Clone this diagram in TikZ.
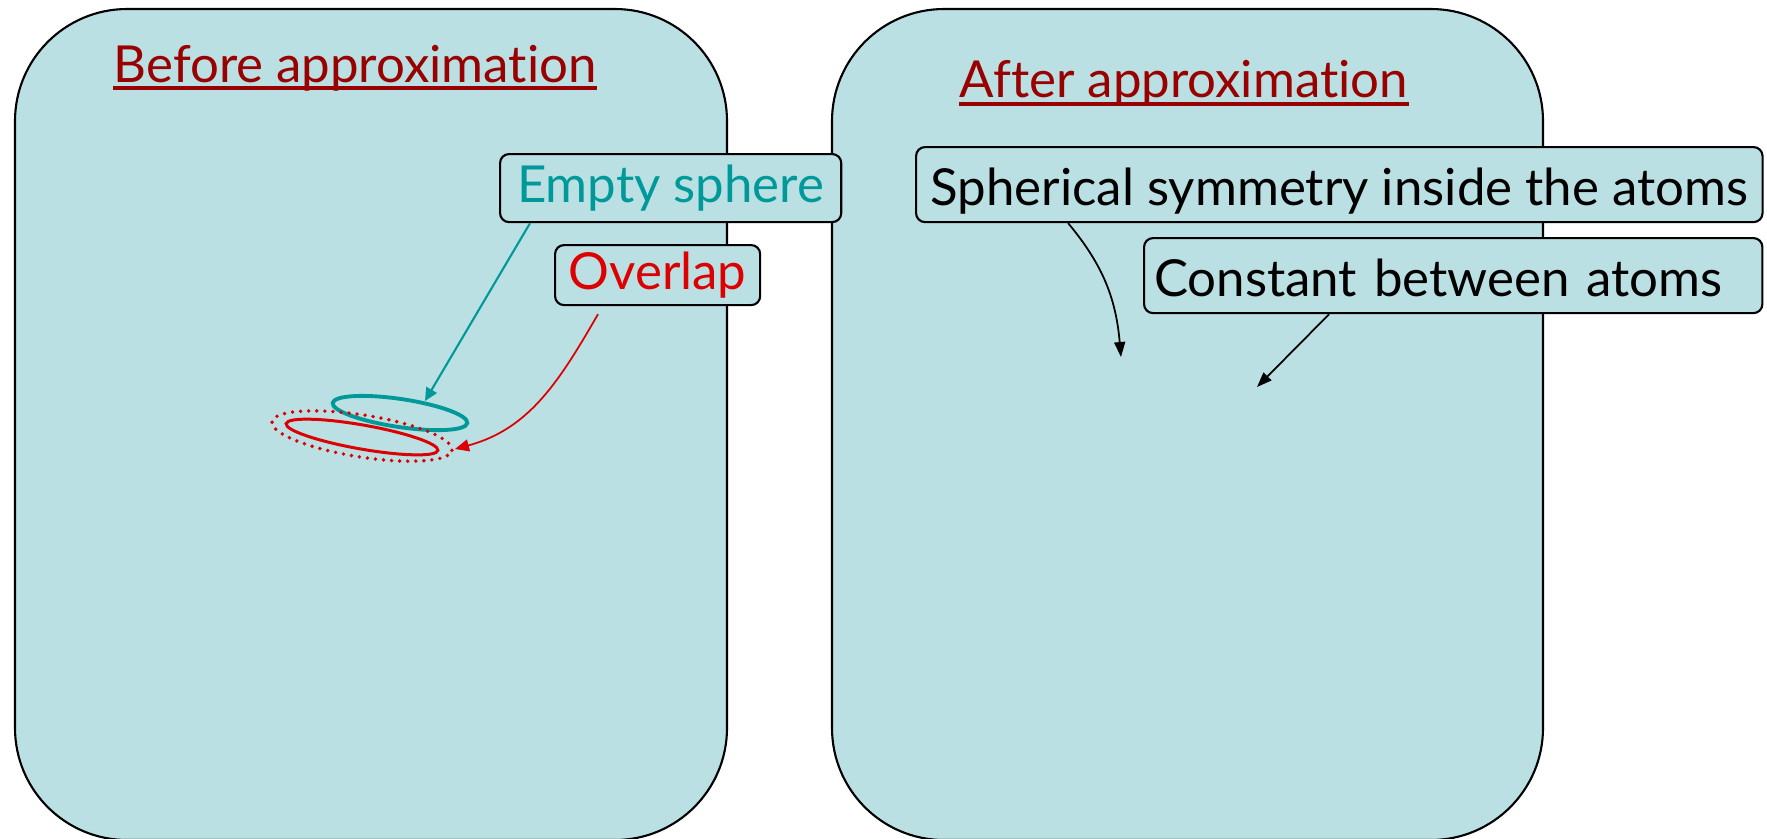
\documentclass[tikz,border=0pt]{standalone}
\usepackage{fontspec}
\setmainfont{Lato}[Ligatures={NoCommon,NoRare}]
\usetikzlibrary{arrows.meta}
\definecolor{panelblue}{RGB}{187,224,227}
\definecolor{sphereteal}{RGB}{0,153,153}
\definecolor{overlapred}{RGB}{221,0,0}
\definecolor{titlered}{RGB}{153,0,0}

\begin{document}
\begin{tikzpicture}[x=0.01cm, y=-0.01cm,
  font=\fontsize{14.5}{17}\selectfont,
  panel/.style={draw=black, line width=0.6pt, fill=panelblue, rounded corners=1.12cm},
  callout/.style={draw=black, line width=0.6pt, fill=panelblue, rounded corners=0.09cm,
    anchor=north west, inner xsep=0.1cm, inner ysep=0pt, text height=0.38cm, text depth=0.1cm},
  title/.style={text=titlered, anchor=base west, inner sep=0pt},
  titleline/.style={titlered, line width=1.3pt},
  pointer/.style={line width=0.5pt, -{Triangle[length=0.15cm, width=0.11cm]}}]
\useasboundingbox (0,0) rectangle (1767,838);
\clip (0,0) rectangle (1767,838);

% the two panels
\draw[panel] (15,9) rectangle (727,840);
\draw[panel] (832,9) rectangle (1543,840);

\node[title] (before) at (113,82) {Before approximation};
\draw[titleline] ([yshift=-0.06cm]before.base west) -- ([yshift=-0.06cm]before.base east);
\node[title] (after) at (959,97) {After approximation};
\draw[titleline] ([yshift=-0.07cm]after.base west) -- ([yshift=-0.07cm]after.base east);

% spheres
\draw[sphereteal, line width=1.1pt, rotate around={-8.5:(400,413)}] (400,413) ellipse [x radius=0.68cm, y radius=0.14cm];
\draw[overlapred, line width=0.85pt, rotate around={-10:(362,437)}] (362,437) ellipse [x radius=0.77cm, y radius=0.12cm];
\draw[overlapred, line width=1.1pt, line cap=round, dash pattern=on 0pt off 2.3pt, rotate around={-9:(362,436)}] (362,436) ellipse [x radius=0.91cm, y radius=0.21cm];

% labels
\node[callout, text=sphereteal, minimum width=3.41cm, minimum height=0.68cm] (empty) at (499,153) {Empty sphere};
\node[callout, text=overlapred, minimum width=2.05cm, minimum height=0.60cm] (overlap) at (554,244) {Overlap};
\node[callout, text height=0.46cm, text depth=0.04cm, minimum width=8.46cm, minimum height=0.75cm] (spherical) at (915,146) {Spherical symmetry inside the atoms};
\node[callout, text height=0.46cm, text depth=0.04cm, minimum width=6.18cm, minimum height=0.75cm, text width=5.98cm, align=left] (constant) at (1143,237) {Constant between atoms};

\coordinate (tealtip) at (425,401);
\coordinate (redtip) at (455,449);
\coordinate (symtip) at (1121,357);
\coordinate (consttip) at (1257,387);

\draw[pointer, sphereteal, line width=0.6pt, -{Triangle[length=0.13cm, width=0.12cm]}] ([xshift=0.31cm]empty.south west) -- (tealtip);
\draw[pointer, overlapred, -{Triangle[length=0.14cm, width=0.12cm]}] ([xshift=0.44cm, yshift=-0.08cm]overlap.south west) to[out=-120, in=15] (redtip);
\draw[pointer] ([xshift=1.53cm]spherical.south west) to[out=-50, in=95] (symtip);
\draw[pointer] ([xshift=1.86cm]constant.south west) -- (consttip);
\end{tikzpicture}
\end{document}
